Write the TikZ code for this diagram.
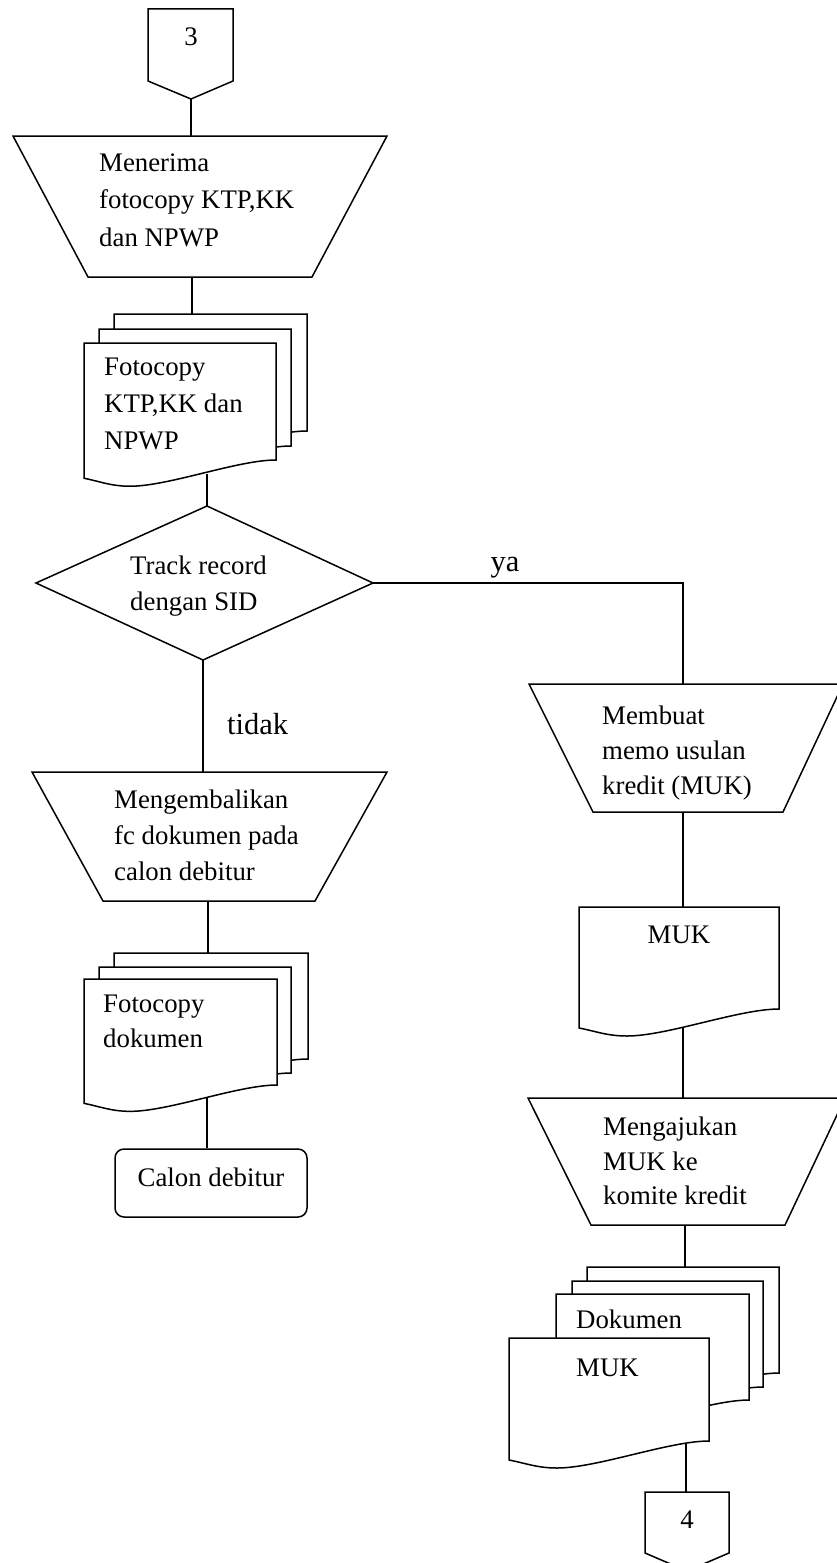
\documentclass[tikz,border=0pt]{standalone}
\usepackage{fontspec}
\setmainfont{Liberation Serif}

% one sheet of a document symbol: left x, right x, top y, y of the right bottom corner
\newcommand\docsheet[4]{%
  \pgfmathsetmacro\dsW{#2-#1}%
  \pgfmathsetmacro\dsYL{#4+0.095*\dsW}%
  \pgfmathsetmacro\dsXM{#1+0.24*\dsW}%
  \pgfmathsetmacro\dsYM{\dsYL+8}%
  \draw[sheet] (#1,#3) -- (#2,#3) -- (#2,#4)
    .. controls ({#2-0.2*\dsW},#4) and ({\dsXM+0.2*\dsW},\dsYM) .. (\dsXM,\dsYM)
    .. controls ({\dsXM-0.1*\dsW},\dsYM) and ({#1+0.08*\dsW},{\dsYL+3}) .. (#1,\dsYL) -- cycle;
}

\begin{document}
\begin{tikzpicture}[x=1pt,y=-1pt]
\tikzset{
  sheet/.style={draw=black, line width=1.5pt, fill=white, line join=miter},
  flow/.style={draw=black, line width=1.5pt},
  txt/.style={inner sep=0pt, align=left, anchor=west},
  lbl/.style={inner sep=0pt, font=\fontsize{30.5}{36}\selectfont},
  digit/.style={inner sep=0pt, anchor=base, font=\fontsize{26.8}{32}\selectfont},
  roundbox/.style={draw=black, line width=1.5pt, fill=white, rounded corners=9pt,
    minimum width=192pt, minimum height=68pt, inner sep=0pt,
    text height=20pt, text depth=14pt, font=\fontsize{26.8}{32}\selectfont},
}
\useasboundingbox (0,0) rectangle (836,1563);

% ---------- off-page connector 3 ----------
\draw[sheet] (148,9) -- (233,9) -- (233,81) -- (191,99) -- (148,81) -- cycle;
\node[digit] (n3) at (191,46) {3};
\coordinate (c3out) at (191,99);

% ---------- manual operation: receive copies ----------
\draw[sheet] (13,136) -- (387,136) -- (312,277) -- (88,277) -- cycle;
\node[txt, font=\fontsize{26.8}{37.5}\selectfont] (t1) at (99,200)
  {Menerima\\fotocopy KTP,KK\\dan NPWP};
\coordinate (t1in) at (191,136);
\coordinate (t1out) at (192,277);

% ---------- multiple documents: copies ----------
\docsheet{114}{307}{314}{431}
\docsheet{99}{291}{329}{446}
\docsheet{84}{276}{343}{460}
\node[txt, font=\fontsize{26.8}{37}\selectfont] (d1) at (104,404)
  {Fotocopy\\KTP,KK dan\\NPWP};
\coordinate (d1in) at (192,314);
\coordinate (d1out) at (207,474);

% ---------- decision ----------
\draw[sheet] (207,506) -- (373,583) -- (203,660) -- (36,583) -- cycle;
\node[txt, font=\fontsize{26.8}{36}\selectfont] (dec) at (130,586)
  {Track record\\dengan SID};
\coordinate (decN) at (207,506);
\coordinate (decE) at (373,583);
\coordinate (decS) at (203,660);
\coordinate (yaBend) at (683,583);

% ---------- right branch: memo ----------
\draw[sheet] (529,684) -- (843,684) -- (783,812) -- (593,812) -- cycle;
\node[txt, font=\fontsize{26.8}{35}\selectfont] (t2) at (602,753)
  {Membuat\\memo usulan\\kredit (MUK)};
\coordinate (t2in) at (683,684);
\coordinate (t2out) at (683,812);

\docsheet{579}{779}{907}{1009}
\node[inner sep=0pt, font=\fontsize{26.8}{32}\selectfont] (muk) at (679,935) {MUK};
\coordinate (mukin) at (683,907);
\coordinate (mukout) at (683,1027);

\draw[sheet] (528,1098) -- (845,1098) -- (785,1225) -- (591,1225) -- cycle;
\node[txt, font=\fontsize{26.8}{34.5}\selectfont] (t3) at (603,1161)
  {Mengajukan\\MUK ke\\komite kredit};
\coordinate (t3in) at (684,1098);
\coordinate (t3out) at (685,1225);

\docsheet{587}{779}{1267}{1373}
\docsheet{572}{763}{1281}{1387}
\docsheet{556}{749}{1294}{1400}
\docsheet{509}{709}{1338}{1441}
\node[txt, font=\fontsize{26.8}{32}\selectfont] (d3a) at (576,1319) {Dokumen};
\node[txt, font=\fontsize{26.8}{32}\selectfont] (d3b) at (576,1368) {MUK};
\coordinate (d3in) at (685,1267);
\coordinate (d3out) at (686,1443);

% ---------- off-page connector 4 ----------
\draw[sheet] (645,1492) -- (729,1492) -- (729,1553) -- (687,1571) -- (645,1553) -- cycle;
\node[digit] (n4) at (687,1528) {4};
\coordinate (c4in) at (686,1492);

% ---------- left branch: return copies ----------
\draw[sheet] (32,772) -- (387,772) -- (315,901) -- (103,901) -- cycle;
\node[txt, font=\fontsize{26.8}{36}\selectfont] (t4) at (114,835)
  {Mengembalikan\\fc dokumen pada\\calon debitur};
\coordinate (t4in) at (203,772);
\coordinate (t4out) at (208,901);

\docsheet{114}{308}{953}{1059}
\docsheet{99}{291}{967}{1073}
\docsheet{84}{277}{979}{1085}
\node[txt, font=\fontsize{26.8}{35}\selectfont] (d2) at (103,1021)
  {Fotocopy\\dokumen};
\coordinate (d2in) at (207,953);
\coordinate (d2out) at (207,1097);

\node[roundbox] (cd) at (211,1183) {Calon debitur};

% ---------- connectors ----------
\draw[flow] (c3out) -- (c3out |- t1in);
\draw[flow] (t1out) -- (t1out |- d1in);
\draw[flow] (d1out) -- (d1out |- decN);
\draw[flow] (decE) -- (yaBend) -- (yaBend |- t2in);
\node[lbl, anchor=base] (ya) at (505,571) {ya};
\draw[flow] (t2out) -- (t2out |- mukin);
\draw[flow] (mukout) -- (mukout |- t3in);
\draw[flow] (t3out) -- (t3out |- d3in);
\draw[flow] (d3out) -- (d3out |- c4in);
\draw[flow] (decS) -- (decS |- t4in);
\node[lbl, anchor=base west] (tidak) at (227,734) {tidak};
\draw[flow] (t4out) -- (t4out |- d2in);
\draw[flow] (d2out) -- (d2out |- cd.north);
\end{tikzpicture}
\end{document}
